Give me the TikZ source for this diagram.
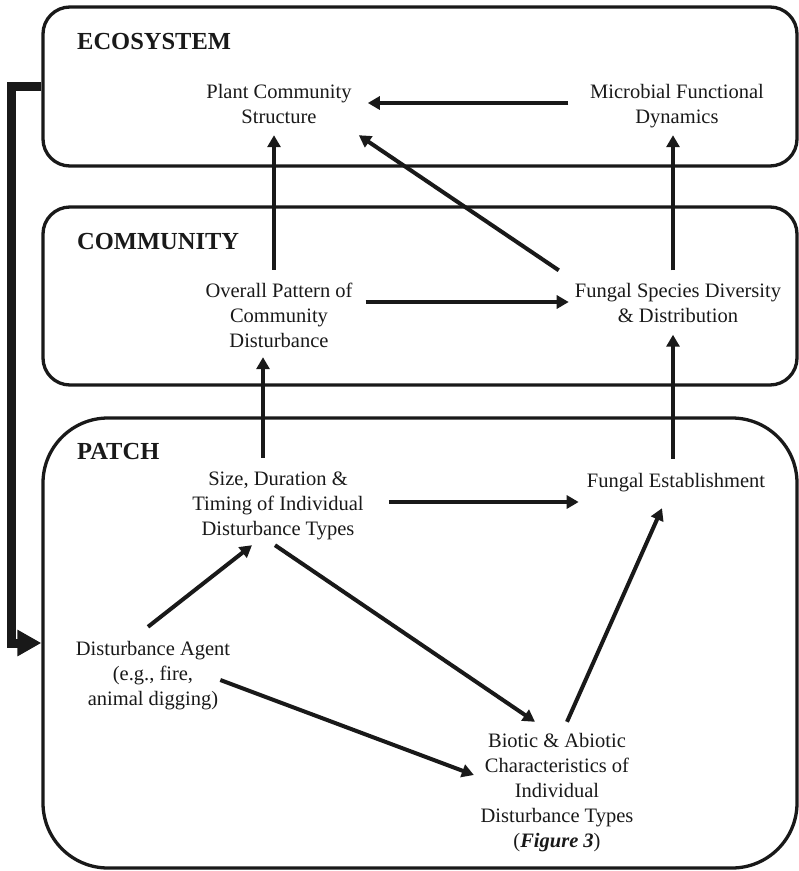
\documentclass[tikz,border=0pt]{standalone}
\usepackage{fontspec}
\setmainfont{Liberation Serif}
\usetikzlibrary{arrows.meta,calc}
\definecolor{ink}{rgb}{0.1,0.1,0.1}
\begin{document}
\begin{tikzpicture}[x=1pt,y=-1pt,
  box/.style={draw=ink, line width=3.3pt, inner sep=0pt, minimum width=754pt},
  lbl/.style={font=\fontsize{24.5}{29}\selectfont\bfseries, text=ink, inner sep=0pt, anchor=base west},
  txt/.style={font=\fontsize{20.5}{25}\selectfont, text=ink, inner sep=0pt, align=center},
  arr/.style={draw=ink, line width=4pt, -{Triangle[length=12pt,width=13pt]}},
  bigarr/.style={draw=ink, line width=9pt, -{Triangle[length=24pt,width=25pt]}}
]
\useasboundingbox (0,0) rectangle (799,871);

\node[box, minimum height=159pt, rounded corners=27pt] (eco) at (420,86.5) {};
\node[box, minimum height=178pt, rounded corners=27pt] (comm) at (420,296) {};
\node[box, minimum height=450pt, rounded corners=65pt] (patch) at (420,643) {};

\node[lbl] (ecol) at (77,49) {ECOSYSTEM};
\node[lbl] (comml) at (77,249) {COMMUNITY};
\node[lbl] (patchl) at (77,459) {PATCH};

\node[txt] (plant) at (279,105.5) {\strut Plant Community\\Structure\strut};
\node[txt] (micro) at (677,105.5) {\strut Microbial Functional\\Dynamics\strut};
\node[txt] (overall) at (279,317) {\strut Overall Pattern of\\Community\\Disturbance\strut};
\node[txt] (fsp) at (678,305) {\strut Fungal Species Diversity\\\& Distribution\strut};
\node[txt] (size) at (278,505) {\strut Size, Duration \&\\Timing of Individual\\Disturbance Types\strut};
\node[txt] (fest) at (676,482) {\strut Fungal Establishment\strut};
\node[txt] (agent) at (153,675) {\strut Disturbance Agent\\(e.g., fire,\\animal digging)\strut};
\node[txt] (biotic) at (557,792) {\strut Biotic \& Abiotic\\Characteristics of\\Individual\\Disturbance Types\\(\textbf{\textit{Figure 3}})\strut};

\draw[arr] ($(micro.west)+(-21.5,-2.5)$) -- ($(plant.east)+(16,-2.5)$);
\draw[arr] ($(overall.north)+(-5,-9.5)$) -- ($(plant.south)+(-5,4.5)$);
\draw[arr] ($(fsp.north west)+(-16,-9.5)$) -- ($(plant.south east)+(7,4.5)$);
\draw[arr] ($(fsp.north)+(-5,-9.5)$) -- ($(micro.south)+(-4,4.5)$);
\draw[arr] ($(overall.east)+(13,-15)$) -- ($(fsp.west)+(-6,-3)$);
\draw[arr] ($(size.north)+(-15,-9.5)$) -- ($(overall.south)+(-16,2.5)$);
\draw[arr] ($(fest.north)+(-3,-10.5)$) -- ($(fsp.south)+(-5,4.5)$);
\draw[arr] ($(size.east)+(25,-3)$) -- ($(fest.west)+(-8,20)$);
\draw[arr] ($(agent.north)+(-5,-10.5)$) -- ($(size.south)+(-26,2.5)$);
\draw[arr] ($(size.south)+(-3,2.5)$) -- ($(biotic.north)+(-22,-7.5)$);
\draw[arr] ($(agent.east)+(-10,5)$) -- ($(biotic.west)+(-6.5,-17)$);
\draw[arr] ($(biotic.north)+(10,-7.5)$) -- ($(fest.south)+(-14,13.5)$);
\draw[bigarr] (eco.west) -- ++(-30,0) |- (patch.west);
\end{tikzpicture}
\end{document}
